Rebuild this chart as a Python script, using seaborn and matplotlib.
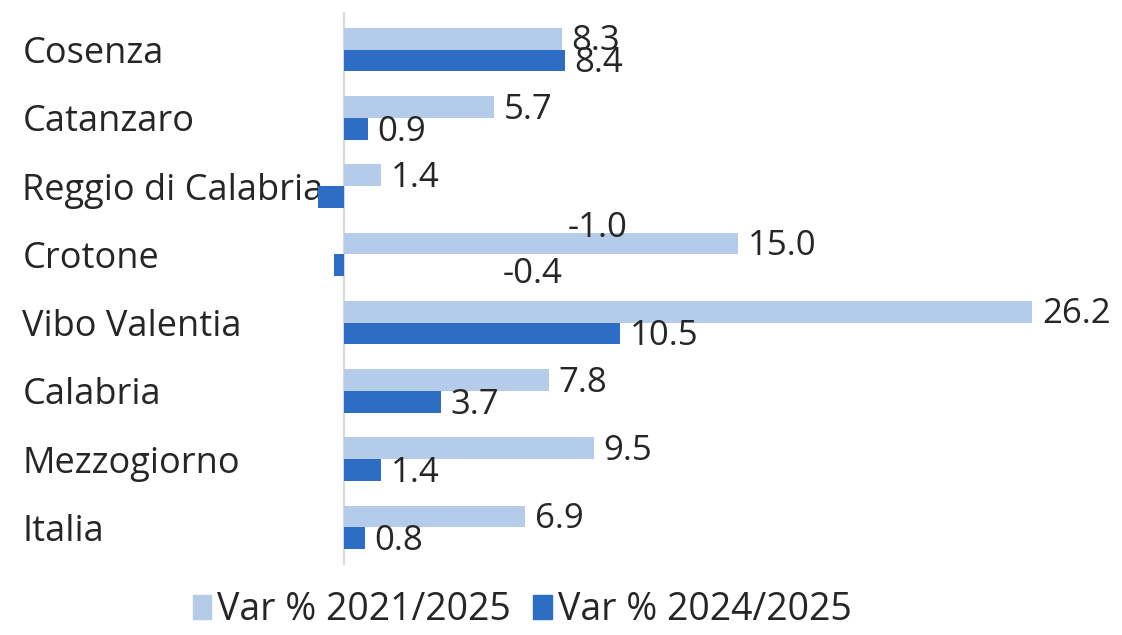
import numpy as np
import pandas as pd
import matplotlib
matplotlib.use("Agg")
import matplotlib.pyplot as plt
import seaborn as sns

categories = ["Cosenza", "Catanzaro", "Reggio di Calabria", "Crotone",
              "Vibo Valentia", "Calabria", "Mezzogiorno", "Italia"]
var_2021_2025 = [8.3, 5.7, 1.4, 15.0, 26.2, 7.8, 9.5, 6.9]
var_2024_2025 = [8.4, 0.9, -1.0, -0.4, 10.5, 3.7, 1.4, 0.8]
series_names = ["Var % 2021/2025", "Var % 2024/2025"]
colors = ["#B4CCEA", "#2E6DC4"]

df = pd.DataFrame({"area": categories * 2,
                   "value": var_2021_2025 + var_2024_2025,
                   "series": [series_names[0]] * len(categories) + [series_names[1]] * len(categories)})

sns.set_theme(style="white")
plt.rcParams["font.family"] = ["Open Sans", "DejaVu Sans"]
FS = 25

fig = plt.figure(figsize=(11.22, 6.35), dpi=100)
ax = fig.add_axes([310 / 1122, 1 - 565 / 635, 730 / 1122, 553 / 635])
sns.barplot(df, y="area", x="value", hue="series", order=categories, hue_order=series_names,
            palette=colors, orient="h", width=0.64, saturation=1, ax=ax, legend=False,
            zorder=3, linewidth=0)

ax.set_xlim(-1.295, 26.5)
ax.set_ylim(7.55, -0.55)
for s in ax.spines.values():
    s.set_visible(False)
ax.axvline(0, color="#D9D9D9", lw=1.5, zorder=2)
ax.set_xticks([])
ax.set(xlabel="", ylabel="")
ax.tick_params(axis="y", length=0, pad=207, labelsize=FS + 1)
for lab in ax.get_yticklabels():
    lab.set_ha("left")
    lab.set_color("#262626")

# data labels (Excel places the negative ones oddly)
odd = {(1, 2): (180, -22), (1, 3): (122, -6)}
for si, cont in enumerate(ax.containers):
    vals = var_2021_2025 if si == 0 else var_2024_2025
    for ci, (bar, v) in enumerate(zip(cont, vals)):
        yc = bar.get_y() + bar.get_height() / 2
        off = odd.get((si, ci), (7, -2))
        ax.annotate(f"{v:.1f}", xy=(v, yc), xytext=off, textcoords="offset points",
                    ha="left", va="center", fontsize=FS, color="#262626", zorder=4)

handles = [plt.Rectangle((0, 0), 1, 1, color=c) for c in colors]
fig.legend(handles, series_names, loc="center", bbox_to_anchor=(522 / 1122, 1 - 610 / 635),
           ncol=2, frameon=False, fontsize=FS + 2, handlelength=0.5, handleheight=0.6,
           handletextpad=0.15, columnspacing=0.6, labelcolor="#262626")

fig.savefig("out.png", dpi=100)
